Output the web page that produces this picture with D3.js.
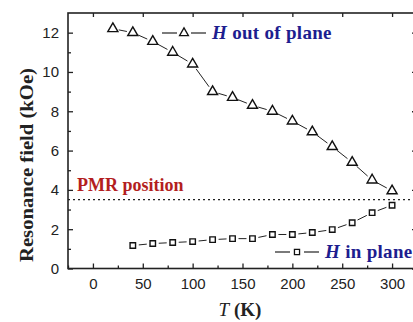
<!DOCTYPE html>
<html>
<head>
<meta charset="utf-8">
<script src="https://cdn.jsdelivr.net/npm/d3@7"></script>
<style>
  body { margin: 0; background: #fff; }
  svg { display: block; }
</style>
</head>
<body>
<div id="chart"></div>
<script>
var width = 413,
    height = 322,
    margin = {top: 13, right: -4, bottom: 53.5, left: 68};

// data
var tempOut = [20, 40, 60, 80, 100, 120, 140, 160, 180, 200, 220, 240, 260, 280, 300];
var fieldOut = [12.2, 12.0, 11.55, 11.0, 10.4, 9.0, 8.7, 8.3, 8.0, 7.5, 6.95, 6.2, 5.4, 4.5, 3.95];
var tempIn = [40, 60, 80, 100, 120, 140, 160, 180, 200, 220, 240, 260, 280, 300];
var fieldIn = [1.17, 1.27, 1.32, 1.37, 1.47, 1.52, 1.52, 1.73, 1.73, 1.83, 1.98, 2.33, 2.84, 3.22];
var pmrField = 3.5;
var xTicks = [0, 50, 100, 150, 200, 250, 300];
var xMinor = [-25, 25, 75, 125, 175, 225, 275, 325];
var yTicks = [0, 2, 4, 6, 8, 10, 12];
var yMinor = [1, 3, 5, 7, 9, 11];

var blue = "#1d1d8f", red = "#b31e1e";
var serif = "'Liberation Serif', 'Times New Roman', serif";

var x = d3.scaleLinear().domain([-25, 325]).range([margin.left, width - margin.right]);
var y = d3.scaleLinear().domain([0, 13]).range([height - margin.bottom, margin.top]);

var svg = d3.select("#chart").append("svg")
  .attr("width", width)
  .attr("height", height);

var x0 = x.range()[0], x1 = x.range()[1], y0 = y.range()[0], y1 = y.range()[1];

// axes, ticks pointing inward
svg.append("g").attr("transform", "translate(0," + y0 + ")")
  .call(d3.axisBottom(x).tickValues(xTicks).tickSizeInner(-5).tickSizeOuter(0).tickPadding(10));
svg.append("g").attr("transform", "translate(0," + y0 + ")")
  .call(d3.axisBottom(x).tickValues(xMinor).tickSizeInner(-3).tickSizeOuter(0).tickFormat(""));
svg.append("g").attr("transform", "translate(0," + y1 + ")")
  .call(d3.axisTop(x).tickValues(xTicks).tickSizeInner(-4).tickSizeOuter(0).tickFormat(""));
svg.append("g").attr("transform", "translate(" + x0 + ",0)")
  .call(d3.axisLeft(y).tickValues(yTicks).tickSizeInner(-5).tickSizeOuter(0).tickPadding(9));
svg.append("g").attr("transform", "translate(" + x0 + ",0)")
  .call(d3.axisLeft(y).tickValues(yMinor).tickSizeInner(-3).tickSizeOuter(0).tickFormat(""));
svg.append("g").attr("transform", "translate(" + x1 + ",0)")
  .call(d3.axisRight(y).tickValues(yTicks).tickSizeInner(-5).tickSizeOuter(0).tickFormat(""));

svg.selectAll(".domain").remove();
svg.selectAll(".tick line").attr("stroke", "#222").attr("stroke-width", 1.3);
svg.selectAll(".tick text")
  .style("font-family", "'Liberation Sans', Arial, sans-serif")
  .style("font-size", "15px")
  .attr("fill", "#222");

// frame
svg.append("rect")
  .attr("x", x0).attr("y", y1)
  .attr("width", x1 - x0).attr("height", y0 - y1)
  .attr("fill", "none").attr("stroke", "#222").attr("stroke-width", 1.6);

// PMR position
svg.append("line")
  .attr("x1", x0).attr("x2", x1)
  .attr("y1", y(pmrField)).attr("y2", y(pmrField))
  .attr("stroke", "#222").attr("stroke-width", 1.2)
  .attr("stroke-dasharray", "2,3");

svg.append("text")
  .attr("x", 77).attr("y", y(pmrField) - 9)
  .style("font-family", serif)
  .style("font-weight", "bold")
  .style("font-size", "18px")
  .attr("fill", red)
  .text("PMR position");

// connecting segments with gaps around markers
function segments(xs, ys, gap) {
  var segs = [];
  for (var i = 0; i < xs.length - 1; i++) {
    var ax = x(xs[i]), ay = y(ys[i]), bx = x(xs[i + 1]), by = y(ys[i + 1]);
    var dx = bx - ax, dy = by - ay, len = Math.sqrt(dx * dx + dy * dy);
    if (len <= 2 * gap) continue;
    segs.push([ax + dx / len * gap, ay + dy / len * gap, bx - dx / len * gap, by - dy / len * gap]);
  }
  return segs;
}

function drawSeries(xs, ys, shape, size) {
  var g = svg.append("g");
  g.selectAll("line").data(segments(xs, ys, 6)).enter().append("line")
    .attr("x1", d => d[0]).attr("y1", d => d[1])
    .attr("x2", d => d[2]).attr("y2", d => d[3])
    .attr("stroke", "#222").attr("stroke-width", 1);
  g.selectAll("path").data(xs).enter().append("path")
    .attr("d", d3.symbol().type(shape).size(size))
    .attr("transform", (d, i) => "translate(" + x(d) + "," + y(ys[i]) + ")")
    .attr("fill", "#fff").attr("stroke", "#111").attr("stroke-width", 1.4);
}

drawSeries(tempOut, fieldOut, d3.symbolTriangle, 44);
drawSeries(tempIn, fieldIn, d3.symbolSquare, 30);

// legends
function legend(lx, ly, shape, size, label) {
  var g = svg.append("g");
  g.append("line").attr("x1", lx - 22).attr("x2", lx - 7).attr("y1", ly).attr("y2", ly)
    .attr("stroke", "#222").attr("stroke-width", 1.2);
  g.append("line").attr("x1", lx + 7).attr("x2", lx + 22).attr("y1", ly).attr("y2", ly)
    .attr("stroke", "#222").attr("stroke-width", 1.2);
  g.append("path").attr("d", d3.symbol().type(shape).size(size))
    .attr("transform", "translate(" + lx + "," + ly + ")")
    .attr("fill", "#fff").attr("stroke", "#111").attr("stroke-width", 1.3);
  var t = g.append("text").attr("x", lx + 28).attr("y", ly + 6)
    .style("font-family", serif)
    .style("font-weight", "bold").style("font-size", "19px")
    .style("letter-spacing", "0.3px")
    .attr("fill", blue);
  t.append("tspan").style("font-style", "italic").text("H");
  t.append("tspan").text(" " + label);
}
legend(184, 33, d3.symbolTriangle, 34, "out of plane");
legend(297, 252, d3.symbolSquare, 26, "in plane");

// axis titles
var title = svg.append("text")
  .attr("x", 240).attr("y", 316)
  .attr("text-anchor", "middle")
  .style("font-family", serif)
  .style("font-weight", "bold").style("font-size", "19px")
  .attr("fill", "#222");
title.append("tspan").style("font-style", "italic").style("font-weight", "normal").text("T");
title.append("tspan").text(" (K)");

svg.append("text")
  .attr("transform", "translate(33,165) rotate(-90)")
  .attr("text-anchor", "middle")
  .attr("textLength", 194)
  .attr("lengthAdjust", "spacingAndGlyphs")
  .style("font-family", serif)
  .style("font-weight", "bold").style("font-size", "18px")
  .attr("fill", "#222")
  .text("Resonance field (kOe)");
</script>
</body>
</html>
